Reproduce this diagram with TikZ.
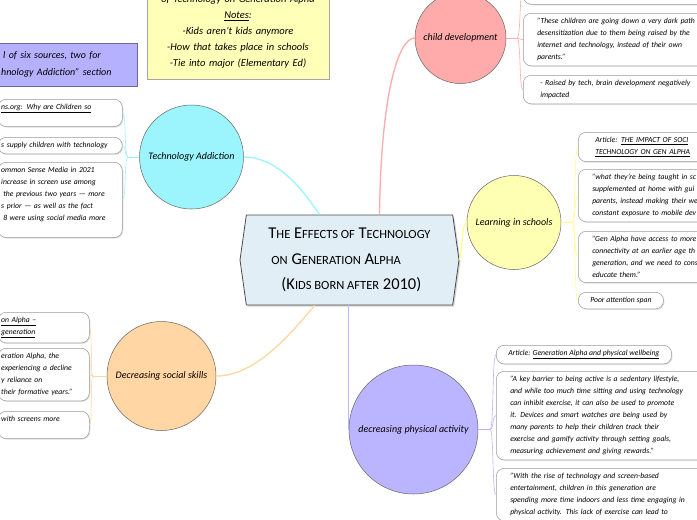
\documentclass[tikz,border=0pt]{standalone}
\usepackage{fontspec}
\setmainfont{Carlito}
\usepackage{tikz}
\usetikzlibrary{shapes,shapes.symbols,positioning,calc,shadows}

\definecolor{techcyan}{HTML}{9CF4FC}
\definecolor{childpink}{HTML}{FFABAB}
\definecolor{learnyellow}{HTML}{FFFFB4}
\definecolor{learnline}{HTML}{FFFF8E}
\definecolor{socialorange}{HTML}{FFD6A4}
\definecolor{physlilac}{HTML}{BBB4FF}
\definecolor{centerblue}{HTML}{E1EEF5}
\definecolor{noteyellow}{HTML}{FFFFB8}
\definecolor{infoblue}{HTML}{B6B1FF}
\definecolor{boxgray}{HTML}{9A9A9A}

\newcommand{\smc}[1]{{\fontsize{12.5}{12.5}\selectfont\MakeUppercase{#1}}}

\begin{document}
\begin{tikzpicture}[x=1pt, y=-1pt,
    topic/.style={circle, draw=gray!80!black, line width=0.5pt, inner sep=0pt, font=\fontsize{10}{11}\selectfont\itshape},
    leaf/.style={draw=boxgray, fill=white, rounded corners=8pt, line width=0.5pt, align=left, inner ysep=5pt, anchor=north west, font=\fontsize{7.7}{12}\selectfont\itshape, drop shadow={shadow xshift=1pt, shadow yshift=-1pt, opacity=0.25}},
    leftleaf/.style={leaf, inner xsep=3pt},
    rightleaf/.style={leaf, inner xsep=14pt},
    branch/.style={line width=1.3pt},
    twig/.style={line width=0.6pt}]
        \useasboundingbox (0,0) rectangle (697,520);
        \clip (0,0) rectangle (697,520);
        \fill [white] (0,0) rectangle (697,520);

        \node [signal, signal to=east and west, signal pointer angle=164, draw=black!70, line width=0.8pt, fill=centerblue, minimum width=219pt, minimum height=90pt, inner sep=0pt, align=left, font=\fontsize{16.5}{25.5}\selectfont, drop shadow={shadow xshift=1.5pt, shadow yshift=-1.5pt, opacity=0.35}] (Center) at (349.5,260) {T\smc{he} E\smc{ffects of} T\smc{echnology}\\ \hspace{3pt}\smc{on} G\smc{eneration} A\smc{lpha}\\ \hspace{13pt}(K\smc{ids born after} 2010)};

        \node [topic, fill=techcyan, minimum size=104pt] (TechAdd) at (191.5,157) {Technology Addiction};
        \node [topic, fill=childpink, minimum size=91pt] (ChildDev) at (460.5,38) {child development};
        \node [topic, fill=learnyellow, minimum size=94pt] (Learning) at (514,222.5) {Learning in schools};
        \node [topic, fill=socialorange, minimum size=109pt] (Social) at (161.5,376) {Decreasing social skills};
        \node [topic, fill=physlilac, minimum size=129pt] (Physical) at (413.5,429.5) {decreasing physical activity};

        \node [draw=infoblue!60!black, fill=infoblue, anchor=north west, text width=132pt, inner xsep=4pt, inner ysep=8.5pt, align=left, font=\fontsize{10}{17}\selectfont\itshape, drop shadow={shadow xshift=1pt, shadow yshift=-1pt, opacity=0.3}] (Sources) at (-3,43) {\hspace{2pt}l of six sources, two for\\ hnology Addiction" section};
        \node [draw=gray!70, fill=noteyellow, anchor=south, text width=172pt, inner xsep=5pt, inner ysep=10.5pt, align=center, font=\fontsize{10.5}{16}\selectfont\itshape, drop shadow={shadow xshift=1pt, shadow yshift=-1pt, opacity=0.3}] (Notes) at (238,79) {of Technology on Generation Alpha\\ \underline{Notes}:\\ -Kids aren't kids anymore\\ -How that takes place in schools\\ -Tie into major (Elementary Ed)};

        \node [leftleaf, text width=118pt] (TA1) at (-2,99) {\underline{ns.org: Why are Children so}\\ \mbox{}};
        \node [leftleaf, text width=118pt] (TA2) at (-2,137) {s supply children with technology};
        \node [leftleaf, text width=118pt] (TA3) at (-2,162) {ommon Sense Media in 2021\\ increase in screen use among\\ \hspace{2pt}the previous two years — more\\ s prior — as well as the fact\\ \hspace{2pt}8 were using social media more\\ \mbox{}};

        \node [leftleaf, text width=85pt] (S1) at (-2,312) {\underline{on Alpha –}\\ \underline{generation}};
        \node [leftleaf, text width=85pt] (S2) at (-2,348) {eration Alpha, the\\ experiencing a decline\\ y reliance on\\ their formative years."};
        \node [leftleaf, text width=85pt] (S3) at (-2,411) {with screens more\\ \mbox{}};

        \node [rightleaf, text width=200pt, minimum height=24pt] (CD1) at (523,-20) {};
        \node [rightleaf, text width=200pt] (CD2) at (523,13) {"These children are going down a very dark path\\ desensitization due to them being raised by the\\ internet and technology, instead of their own\\ parents."};
        \node [rightleaf, text width=200pt] (CD3) at (523,75) {\hspace{3pt}- Raised by tech, brain development negatively\\ \hspace{3pt}impacted};

        \node [rightleaf, text width=200pt] (L1) at (578,132) {\hspace{3pt}Article: \underline{THE IMPACT OF SOCI}\\ \hspace{3pt}\underline{TECHNOLOGY ON GEN ALPHA}};
        \node [rightleaf, text width=200pt] (L2) at (578,169) {"what they're being taught in sc\\ supplemented at home with gui\\ parents, instead making their we\\ constant exposure to mobile dev};
        \node [rightleaf, text width=200pt] (L3) at (578,231) {"Gen Alpha have access to more\\ connectivity at an earlier age th\\ generation, and we need to cons\\ educate them."};
        \node [rightleaf, inner xsep=12pt] (L4) at (578,292) {Poor attention span};

        \node [rightleaf, inner xsep=12pt] (P1) at (496,345) {Article: \underline{Generation Alpha and physical wellbeing}};
        \node [rightleaf, text width=220pt] (P2) at (496,371) {"A key barrier to being active is a sedentary lifestyle,\\ and while too much time sitting and using technology\\ can inhibit exercise, it can also be used to promote\\ it. Devices and smart watches are being used by\\ many parents to help their children track their\\ exercise and gamify activity through setting goals,\\ measuring achievement and giving rewards."};
        \node [rightleaf, text width=220pt] (P3) at (496,468) {"With the rise of technology and screen-based\\ entertainment, children in this generation are\\ spending more time indoors and less time engaging in\\ physical activity. This lack of exercise can lead to};

        \draw [branch, techcyan] (TechAdd.east) .. controls (275,157) and (300,185) .. ([xshift=-30pt]Center.north);
        \draw [branch, childpink] (ChildDev.west) .. controls (398,38) and (381,95) .. ([xshift=30pt]Center.north);
        \draw [branch, learnline] (Center.east) .. controls (463,245) and (462,222.5) .. (Learning.west);
        \draw [branch, socialorange] (Social.east) .. controls (255,376) and (290,335) .. ([xshift=-35pt]Center.south);
        \draw [branch, physlilac] (Physical.west |- Center.south) -- (Physical.west);

        \coordinate (TechFork) at (128,157);
        \draw [twig, techcyan] (TechAdd.west) -- (TechFork);
        \draw [twig, techcyan] (TechFork) .. controls +(-4,0) and +(4,0) .. (TA1.east);
        \draw [twig, techcyan] (TechFork) .. controls +(-4,0) and +(4,0) .. (TA2.east);
        \draw [twig, techcyan] (TechFork) .. controls +(-4,0) and +(4,0) .. (TA3.east);

        \coordinate (SocialFork) at (93,376);
        \draw [twig, socialorange] (Social.west) -- (SocialFork);
        \draw [twig, socialorange] (SocialFork) .. controls +(-3,0) and +(3,0) .. (S1.east);
        \draw [twig, socialorange] (SocialFork) .. controls +(-3,0) and +(3,0) .. (S2.east);
        \draw [twig, socialorange] (SocialFork) .. controls +(-3,0) and +(3,0) .. (S3.east);

        \coordinate (ChildFork) at (517,38);
        \draw [twig, childpink] (ChildDev.east) -- (ChildFork);
        \draw [twig, childpink] (ChildFork) .. controls +(4,0) and +(-4,0) .. (CD1.west);
        \draw [twig, childpink] (ChildFork) .. controls +(4,0) and +(-4,0) .. (CD2.west);
        \draw [twig, childpink] (ChildFork) .. controls +(4,0) and +(-4,0) .. (CD3.west);

        \coordinate (LearnFork) at (572,222.5);
        \draw [twig, learnline] (Learning.east) -- (LearnFork);
        \draw [twig, learnline] (LearnFork) .. controls +(4,0) and +(-4,0) .. (L1.west);
        \draw [twig, learnline] (LearnFork) .. controls +(4,0) and +(-4,0) .. (L2.west);
        \draw [twig, learnline] (LearnFork) .. controls +(4,0) and +(-4,0) .. (L3.west);
        \draw [twig, learnline] (LearnFork) .. controls +(4,0) and +(-4,0) .. (L4.west);

        \coordinate (PhysFork) at (490,429.5);
        \draw [twig, physlilac] (Physical.east) -- (PhysFork);
        \draw [twig, physlilac] (PhysFork) .. controls +(4,0) and +(-4,0) .. (P1.west);
        \draw [twig, physlilac] (PhysFork) .. controls +(4,0) and +(-4,0) .. (P2.west);
        \draw [twig, physlilac] (PhysFork) .. controls +(4,0) and +(-4,0) .. (P3.west);
    \end{tikzpicture}
\end{document}
